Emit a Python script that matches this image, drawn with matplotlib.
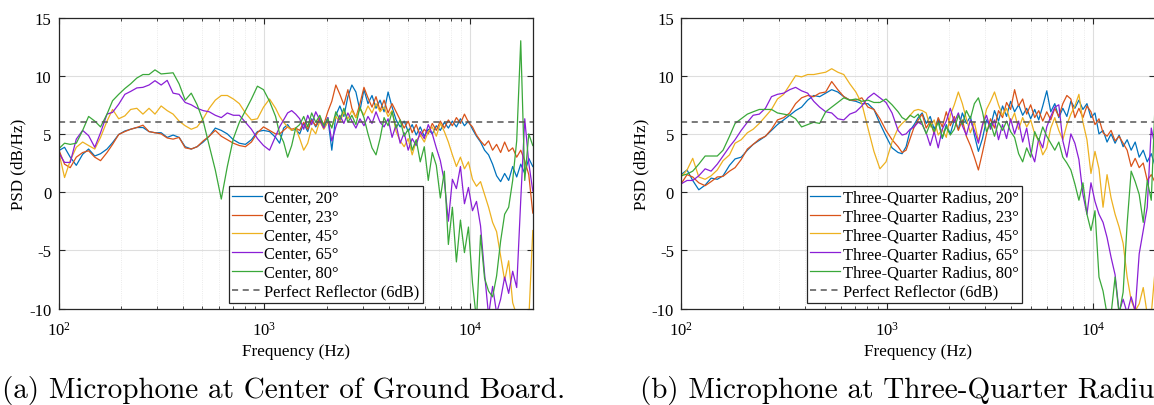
import matplotlib
matplotlib.use("Agg")
import matplotlib.pyplot as plt

plt.rcParams['font.family'] = ['Liberation Serif', 'DejaVu Serif']
plt.rcParams['mathtext.fontset'] = 'custom'
plt.rcParams['mathtext.rm'] = 'Liberation Serif'
plt.rcParams['mathtext.it'] = 'Liberation Serif:italic'
plt.rcParams['axes.unicode_minus'] = False

# ---------------- data ----------------
freq_hz = [100, 107, 114, 122, 131, 140, 150, 160, 172, 183, 196, 210, 224, 240, 257, 275, 294, 315, 337, 360,
           385, 412, 441, 471, 504, 539, 577, 617, 660, 706, 755, 808, 864, 924, 989, 1058, 1132,
           1184, 1238, 1295, 1355, 1417, 1482, 1550, 1621, 1695, 1773, 1855, 1940, 2029, 2122, 2220, 2322, 2428,
           2540, 2656, 2778, 2907, 3040, 3180, 3326, 3478, 3639, 3806, 3981, 4163, 4355, 4556, 4765, 4983, 5212,
           5451, 5703, 5965, 6238, 6525, 6824, 7139, 7467, 7809, 8168, 8543, 8937, 9347, 9776, 10225, 10694,
           11189, 11703, 12240, 12802, 13389, 14006, 14649, 15322, 16025, 16761, 17535, 18340, 19182, 20064]

center_20 = [3.55, 3.85, 3.0, 2.3, 3.25, 3.7, 3.1, 3.3, 3.7, 4.25, 4.95, 5.25, 5.4, 5.55, 5.55, 5.2, 5.1, 5.1, 4.7, 4.9,
             4.7, 3.9, 3.7, 3.9, 4.3, 4.8, 5.5, 5.3, 5.0, 4.5, 4.2, 4.1, 4.5, 5.2, 5.3, 5.2, 4.7,
             4.2, 5.5, 5.8, 5.3, 5.4, 5.0, 5.9, 5.2, 6.3, 5.6, 6.2, 5.5, 6.4, 3.6, 6.6, 7.4, 6.5, 8.2, 9.2, 8.6,
             7.0, 8.8, 7.6, 8.3, 7.2, 7.9, 6.9, 8.6, 7.3, 6.2, 5.6, 6.1, 5.2, 5.8, 4.9, 5.6, 4.8, 5.4, 5.0, 5.7,
             5.3, 6.0, 5.5, 6.1, 5.6, 6.3, 5.7, 6.1, 5.4, 4.8, 4.3, 3.6, 3.2, 2.4, 1.4, 0.9, 1.6, 1.0, 2.2, 1.3,
             2.4, 1.6, 2.9, 2.2]
center_23 = [3.7, 2.4, 2.1, 3.0, 3.4, 3.55, 3.0, 2.7, 3.4, 4.1, 4.95, 5.2, 5.4, 5.55, 5.75, 5.2, 5.1, 5.0, 4.65, 4.55,
             4.7, 3.8, 3.7, 3.9, 4.4, 4.8, 5.3, 4.8, 4.5, 4.2, 4.0, 3.9, 4.3, 5.1, 5.6, 5.3, 5.0,
             5.0, 5.3, 5.6, 5.4, 5.5, 5.3, 6.0, 5.4, 6.2, 5.7, 6.4, 5.8, 6.9, 7.8, 9.2, 8.4, 7.5, 8.8, 7.2, 6.4,
             7.6, 9.0, 8.1, 7.3, 8.2, 7.0, 7.9, 6.8, 7.6, 6.9, 6.2, 5.5, 6.1, 5.1, 5.8, 4.8, 5.4, 5.0, 5.9, 5.3,
             6.1, 5.5, 6.2, 5.7, 6.4, 5.9, 6.7, 6.0, 5.6, 4.9, 4.4, 4.0, 4.4, 3.6, 4.1, 3.4, 4.3, 3.5, 3.8, 3.0,
             3.6, 2.7, 1.5, -1.8]
center_45 = [3.55, 1.25, 2.7, 3.85, 4.3, 4.0, 3.7, 4.7, 6.1, 7.1, 6.3, 6.55, 7.1, 7.2, 6.7, 7.2, 6.7, 7.4, 7.0, 6.7,
             6.1, 5.7, 5.4, 5.6, 6.3, 7.2, 7.9, 8.3, 8.3, 8.0, 7.6, 6.8, 6.2, 6.3, 7.3, 8.0, 7.2,
             6.5, 6.0, 5.6, 5.3, 5.5, 4.6, 3.6, 4.2, 5.5, 5.0, 6.1, 5.4, 6.0, 5.6, 6.5, 6.0, 6.9, 6.3, 7.0, 6.4,
             7.2, 6.6, 7.4, 6.8, 7.6, 6.9, 7.3, 6.5, 7.0, 5.2, 4.4, 3.9, 4.6, 3.2, 4.4, 4.9, 4.3, 5.2, 5.6, 4.8,
             5.9, 5.2, 4.3, 3.2, 2.2, 3.0, 2.0, 2.6, 1.1, 0.5, 0.9, -0.2, -1.3, -2.6, -3.4, -5.5, -7.6, -5.9, -9.5, -10.6,
             -11.0, -10.8, -11.0, -3.3]
center_65 = [3.4, 2.55, 2.55, 4.55, 5.3, 4.85, 3.85, 5.1, 6.7, 6.85, 7.55, 8.4, 8.65, 8.95, 9.0, 9.2, 9.57, 9.2, 9.6, 8.5,
             8.4, 7.7, 7.5, 7.2, 7.0, 6.9, 6.6, 6.4, 6.8, 6.6, 6.6, 6.0, 5.4, 4.6, 4.0, 3.6, 4.8,
             5.6, 6.2, 6.8, 7.0, 6.7, 6.3, 5.4, 6.6, 5.8, 6.9, 6.2, 5.5, 6.4, 4.4, 5.6, 6.6, 5.9, 6.8, 6.1, 5.5,
             6.3, 5.7, 6.5, 5.9, 6.9, 6.0, 5.6, 6.3, 4.7, 5.8, 4.2, 5.1, 3.6, 4.6, 4.0, 5.2, 4.6, 5.8, 5.0, 3.8,
             2.7, 0.9, -2.5, 1.1, 0.3, 2.2, -1.0, 0.4, -1.6, -0.8, -2.9, -7.0, -10.6, -8.1, -10.4, -9.2, -7.3, -8.7, -6.8, -8.2,
             -0.7, 6.3, 2.5, 0.1]
center_80 = [3.7, 4.2, 4.1, 4.2, 5.3, 6.5, 6.1, 5.6, 6.7, 7.85, 8.4, 8.9, 9.3, 9.8, 10.1, 10.1, 10.5, 10.15, 10.2, 10.25,
             9.3, 7.9, 8.5, 7.5, 6.1, 4.0, 1.9, -0.6, 2.2, 4.6, 6.0, 7.0, 8.0, 9.1, 8.8, 7.8, 6.5,
             5.0, 4.3, 3.0, 4.0, 5.5, 5.8, 6.5, 5.6, 6.8, 6.0, 6.6, 5.7, 6.3, 5.5, 6.9, 6.2, 7.2, 6.0, 6.6, 5.8,
             7.3, 6.4, 5.0, 3.8, 3.2, 4.6, 6.4, 5.7, 6.9, 5.5, 6.2, 4.8, 5.4, 3.6, 4.5, 2.6, 3.9, 1.0, 3.4, 2.3,
             -0.5, 1.8, -4.5, -1.3, -6.0, -2.4, -5.2, -3.0, -7.8, -11.0, -3.7, -7.4, -8.5, -9.0, -7.2, -4.2, -1.9, -1.3, 1.0, 4.4,
             13.0, 1.0, 5.0, 4.0]

tq_20 = [1.5, 1.9, 1.0, 0.2, 0.6, 1.2, 1.1, 1.4, 2.3, 2.85, 3.0, 3.6, 4.1, 4.45, 4.8, 5.3, 5.8, 6.2, 6.6, 7.0,
         7.3, 7.9, 8.3, 8.2, 8.5, 8.8, 8.6, 8.2, 7.9, 7.8, 7.6, 7.6, 7.1, 5.9, 4.8, 3.8, 3.4,
         3.3, 3.9, 5.3, 5.8, 6.4, 6.8,
         5.9, 6.5, 5.4, 6.3, 4.6, 5.8, 5.0, 6.2, 5.4, 6.8, 5.9, 6.5, 4.9, 3.5, 4.6, 6.2, 5.6, 7.0, 6.1, 7.4,
         6.5, 7.8, 6.9, 7.5, 6.6, 7.2, 6.3, 7.1, 6.2, 7.4, 8.7, 6.9, 7.6, 6.4, 7.2, 6.5, 7.8, 7.2, 7.9, 7.1,
         7.6, 6.4, 6.8, 5.0, 5.3, 4.3, 5.0, 4.2, 4.9, 3.9, 4.5, 3.6, 4.3, 3.0, 3.6, 2.6, 3.3, 2.2]
tq_23 = [0.7, 1.5, 1.3, 0.8, 0.55, 0.9, 1.3, 1.35, 1.8, 2.1, 2.8, 3.7, 4.1, 4.55, 4.8, 5.4, 6.2, 6.4, 6.8, 7.6,
         8.1, 8.3, 8.2, 8.5, 8.6, 9.5, 8.8, 8.2, 7.9, 7.9, 8.1, 7.3, 7.1, 6.3, 5.3, 4.5, 3.9,
         3.4, 3.6, 4.6, 5.6, 6.2, 6.7,
         5.5, 6.1, 5.0, 6.4, 5.6, 6.9, 5.7, 6.5, 5.3, 6.2, 4.8, 4.0, 3.0, 1.9, 3.4, 5.0, 6.3, 5.5, 7.0, 6.4,
         7.7, 7.1, 8.8, 7.4, 8.0, 6.7, 7.5, 6.4, 7.0, 6.1, 6.9, 6.2, 7.2, 6.5, 7.6, 8.3, 8.0, 6.4, 7.2, 6.4,
         7.4, 6.9, 5.8, 6.3, 5.1, 4.8, 5.3, 4.4, 4.8, 4.2, 3.6, 2.2, 2.9, 2.1, 2.5, 1.0, 1.5, 0.8]
tq_45 = [1.3, 1.9, 2.9, 1.3, 1.1, 1.4, 1.9, 2.7, 3.2, 4.2, 4.5, 5.1, 5.4, 5.9, 6.5, 7.1, 8.0, 8.4, 9.2, 10.0,
         9.9, 10.1, 10.1, 10.2, 10.3, 10.6, 10.3, 10.1, 9.3, 8.6, 7.6, 5.5, 3.5, 2.0, 2.6, 4.3, 5.5,
         5.9, 6.2, 6.6, 7.0, 7.1, 7.0,
         6.8, 5.6, 6.2, 4.9, 5.4, 4.7, 6.6, 7.5, 8.6, 7.6, 6.3, 5.1, 6.0, 4.4, 5.6, 7.1, 7.8, 8.6, 7.5, 6.6,
         7.2, 6.0, 6.8, 5.4, 6.4, 5.6, 6.2, 5.0, 4.4, 3.2, 3.8, 5.5, 6.4, 5.3, 4.5, 5.8, 6.7, 7.4, 8.4, 6.0,
         4.5, 1.6, 3.5, 2.0, -1.3, 1.5, -0.5, -1.9, -3.0, -4.4, -7.3, -9.3, -10.2, -9.6, -8.2, -10.5, -10.5, -6.5]
tq_65 = [0.7, 1.0, 1.0, 1.4, 2.0, 1.8, 2.4, 3.1, 3.9, 4.5, 5.3, 6.0, 6.6, 6.7, 7.2, 8.2, 8.4, 8.5, 8.8, 9.0,
         8.7, 8.5, 7.8, 7.3, 6.9, 6.8, 6.3, 6.2, 6.7, 6.9, 7.4, 8.1, 8.5, 8.1, 7.7, 6.8, 5.3,
         4.9, 5.0, 5.4, 5.6, 6.0, 5.8,
         5.1, 4.0, 5.2, 3.8, 5.4, 6.1, 7.2, 6.0, 6.8, 5.7, 4.9, 6.2, 5.3, 4.2, 5.8, 6.6, 5.4, 6.2, 4.5, 5.8,
         4.6, 6.3, 5.0, 6.1, 4.3, 5.5, 3.5, 2.6, 4.6, 3.8, 5.6, 6.5, 7.3, 7.5, 4.4, 3.0, 5.0, 4.2, 2.8, -0.2,
         -1.9, 0.8, -0.8, -1.9, -2.6, -3.9, -5.6, -7.1, -10.3, -9.2, -10.4, -9.0, -10.2, -5.3, -3.3, -1.3, 5.5, 3.8]
tq_80 = [1.4, 1.55, 1.8, 2.4, 3.1, 3.1, 3.1, 3.6, 4.8, 5.9, 6.3, 6.7, 6.9, 7.1, 7.1, 7.1, 6.8, 6.7, 6.6, 6.3,
         5.6, 5.8, 6.0, 5.9, 6.9, 7.3, 7.7, 8.1, 7.9, 8.0, 7.8, 7.9, 7.7, 7.7, 8.0, 7.5, 6.9,
         6.4, 6.2, 6.6, 6.4, 6.7, 5.9,
         5.0, 5.9, 5.2, 6.0, 4.7, 5.6, 4.9, 5.4, 6.6, 5.8, 7.0, 6.3, 7.6, 8.1, 6.9, 5.2, 5.9, 4.8, 6.0, 5.3,
         6.1, 5.2, 4.7, 3.3, 2.6, 3.8, 3.0, 5.2, 4.4, 5.6, 4.8, 4.2, 3.6, 4.3, 3.0, 2.5, 1.9, 0.7, -0.7, 0.8,
         -1.9, -3.3, -1.6, -7.3, -8.5, -10.5, -10.5, -7.3, -10.5, -8.6, -2.7, 1.8, 0.9, -0.2, -2.6, 1.0, -0.7, 8.1]

angles = ['20°', '23°', '45°', '65°', '80°']
colors = ['#0072BD', '#D95319', '#EDB120', '#8A1FD6', '#3AA83A']
reflector_db = 6

# caption (b) is shown cut at the right edge of the reference image
panels = [
    dict(prefix='Center', series=[center_20, center_23, center_45, center_65, center_80],
         caption='(a) Microphone at Center of Ground Board.'),
    dict(prefix='Three-Quarter Radius', series=[tq_20, tq_23, tq_45, tq_65, tq_80],
         caption='(b) Microphone at Three-Quarter Radiu'),
]

# ---------------- figure ----------------
fig = plt.figure(figsize=(11.54, 4.06), dpi=100)
W, H = 1154, 406
axes_px = [(58.5, 18.5, 474, 291), (681.0, 18.5, 474, 291)]
legend_anchor = [(0.359, 0.42), (0.266, 0.42)]
caption_x = [2, 640]

for i, p in enumerate(panels):
    x0, y0, w, h = axes_px[i]
    ax = fig.add_axes([x0 / W, 1 - (y0 + h) / H, w / W, h / H])
    for vals, ang, col in zip(p['series'], angles, colors):
        ax.plot(freq_hz, vals, color=col, lw=0.9, label=f"{p['prefix']}, {ang}")
    ax.axhline(reflector_db, color='#555555', ls='--', lw=1.1, dashes=(4, 3),
               label='Perfect Reflector (6dB)')
    ax.set_xscale('log')
    ax.set_xlim(100, 20000)
    ax.set_ylim(-10, 15)
    ax.set_yticks([-10, -5, 0, 5, 10, 15])
    ax.grid(True, which='major', color='#dedede', lw=0.8)
    ax.grid(True, which='minor', axis='x', color='#e4e4e4', lw=0.6, ls=':')
    ax.set_axisbelow(True)
    ax.tick_params(which='both', direction='in', top=True, right=True, labelsize=12,
                   colors='#262626', labelcolor='black')
    ax.tick_params(which='major', length=4, width=0.8)
    ax.tick_params(which='minor', length=2.2, width=0.6)
    ax.tick_params(axis='x', which='major', pad=9)
    ax.tick_params(axis='y', which='major', pad=5)
    for s in ax.spines.values():
        s.set_color('#262626')
        s.set_linewidth(0.9)
    ax.set_xlabel('Frequency (Hz)', fontsize=12.3, labelpad=3)
    ax.set_ylabel('PSD (dB/Hz)', fontsize=12.3, labelpad=2)
    leg = ax.legend(loc='upper left', bbox_to_anchor=legend_anchor[i], fontsize=11.9,
                    frameon=True, fancybox=False, edgecolor='#262626', framealpha=1,
                    handlelength=1.8, handletextpad=0.15, borderpad=0.2,
                    labelspacing=0.17, borderaxespad=0)
    leg.get_frame().set_linewidth(0.9)
    fig.text(caption_x[i] / W, 1 - 391 / H, p['caption'], fontsize=21, family='cmr10',
             ha='left', va='center')

fig.savefig('out.png', dpi=100)
